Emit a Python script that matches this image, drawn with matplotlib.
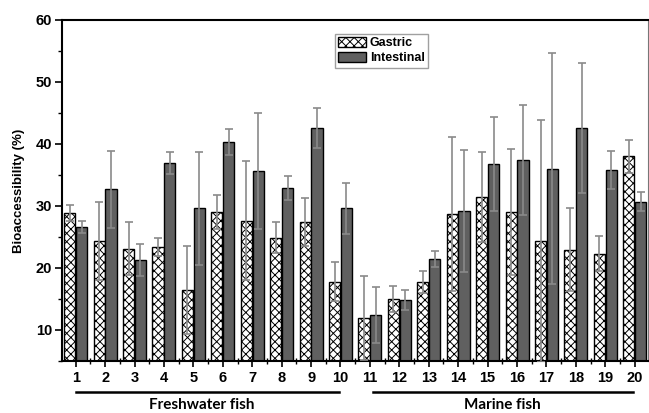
import numpy as np
from matplotlib import pyplot as plt
from matplotlib.ticker import MultipleLocator

# fish samples 1-10 freshwater, 11-20 marine
samples = list(range(1, 21))
gastric = [28.8, 24.4, 23.1, 23.4, 16.4, 29.0, 27.6, 24.9, 27.4, 17.8,
           11.9, 15.0, 17.7, 28.7, 31.4, 29.0, 24.4, 22.9, 22.3, 38.0]
gastric_sd = [1.3, 6.3, 4.3, 1.4, 7.1, 2.8, 9.6, 2.5, 3.8, 3.2,
              6.8, 2.1, 1.8, 12.4, 7.3, 10.2, 19.5, 6.7, 2.8, 2.7]
intestinal = [26.6, 32.7, 21.3, 36.9, 29.6, 40.3, 35.6, 32.9, 42.6, 29.6,
              12.4, 14.8, 21.5, 29.2, 36.8, 37.4, 36.0, 42.5, 35.8, 30.7]
intestinal_sd = [1.0, 6.2, 2.6, 1.8, 9.1, 2.1, 9.3, 2.0, 3.2, 4.1,
                 4.5, 1.6, 1.3, 9.8, 7.6, 8.9, 18.6, 10.5, 3.0, 1.5]
groups = ["Freshwater fish", "Marine fish"]
group_spans = [(1.0, 9.95), (11.1, 19.93)]

plt.rcParams['font.family'] = ['Liberation Sans', 'DejaVu Sans']
plt.rcParams['hatch.linewidth'] = 0.7

fig = plt.figure(figsize=(6.49, 4.13), dpi=100)
ax = fig.add_axes([0.0955, 0.126, 0.9025, 0.826])

x = np.array(samples)
w = 0.38
ax.bar(x - 0.2, gastric, w, color='white', edgecolor='black',
       hatch='xxxx', linewidth=1.0, label='Gastric', zorder=2)
ax.bar(x + 0.2, intestinal, w, color='#606060', edgecolor='black',
       linewidth=1.0, label='Intestinal', zorder=2)
ax.errorbar(x - 0.2, gastric, yerr=gastric_sd, fmt='none', ecolor='#8a8a8a',
            elinewidth=1.2, capsize=3, capthick=1.2, zorder=3)
ax.errorbar(x + 0.2, intestinal, yerr=intestinal_sd, fmt='none', ecolor='#8a8a8a',
            elinewidth=1.2, capsize=3, capthick=1.2, zorder=3)

ax.set_xlim(0.535, 20.44)
ax.set_ylim(5, 60)
ax.set_xticks(samples)
ax.xaxis.set_minor_locator(MultipleLocator(0.5))
ax.yaxis.set_major_locator(MultipleLocator(10))
ax.yaxis.set_minor_locator(MultipleLocator(5))
ax.tick_params(axis='x', which='major', direction='inout', length=8, width=1.2,
               labelsize=10.5, pad=3)
ax.tick_params(axis='x', which='minor', direction='inout', length=4, width=1.0)
ax.tick_params(axis='y', which='major', direction='out', length=5, width=1.2,
               labelsize=10.5, pad=2)
ax.tick_params(axis='y', which='minor', direction='out', length=3, width=1.0)
for lab in ax.get_xticklabels() + ax.get_yticklabels():
    lab.set_fontweight('bold')

ax.set_ylabel('Bioaccessibility (%)', fontsize=9.5, fontweight='bold', labelpad=8)

for side in ['left', 'bottom', 'top']:
    ax.spines[side].set_linewidth(1.5)
ax.spines['right'].set_linewidth(0.8)
ax.spines['right'].set_color('#777777')

leg = ax.legend(loc='upper left', bbox_to_anchor=(0.455, 0.978), frameon=True,
                fancybox=False, edgecolor='#888888', handlelength=2.2,
                handleheight=0.8, handletextpad=0.3, borderpad=0.3,
                labelspacing=0.2, prop={'weight': 'bold', 'size': 9})
leg.get_frame().set_linewidth(1.0)

# group lines and labels beneath the axis
trans = ax.get_xaxis_transform()
label_shift = [-0.2, 0.0]
for name, (x0, x1), dx in zip(groups, group_spans, label_shift):
    ax.plot([x0, x1], [-0.091, -0.091], color='black', lw=1.8,
            transform=trans, clip_on=False)
    ax.text((x0 + x1) / 2 + dx, -0.108, name, transform=trans, ha='center',
            va='top', fontsize=11, fontweight='bold', family='Lato')

fig.savefig('out.png', dpi=100)
